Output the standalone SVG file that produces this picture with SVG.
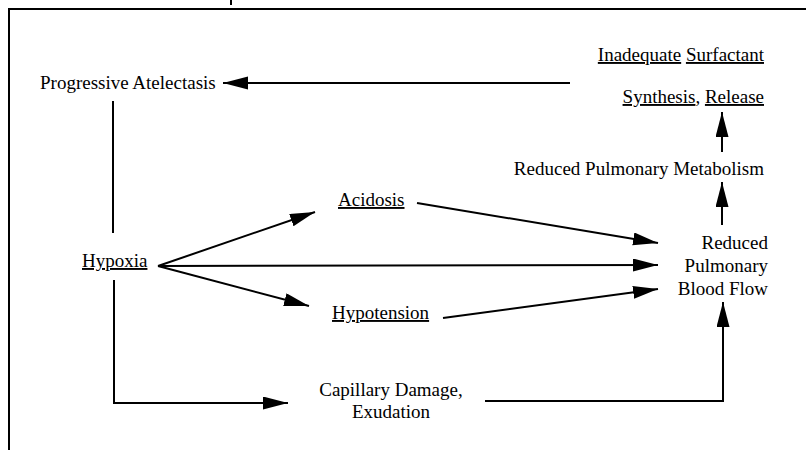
<svg xmlns="http://www.w3.org/2000/svg" width="806" height="450" viewBox="0 0 806 450">
<style>
  .u { text-decoration: underline; }
  .ln { stroke: #000; stroke-width: 2; fill: none; }
  .ar { stroke: #000; stroke-width: 2; fill: none; marker-end: url(#ah); }
</style>
<defs>
  <marker id="ah" markerUnits="userSpaceOnUse" markerWidth="26" markerHeight="14" refX="25" refY="6.5" orient="auto">
    <path d="M0,0 L25,6.5 L0,13 z" fill="#000"/>
  </marker>
</defs>
<rect width="806" height="450" fill="#fff"/>
<g id="frame">
  <path class="ln" d="M9,450 L9,9 L806,9"/>
  <line class="ln" x1="231" y1="0" x2="231" y2="5"/>
</g>
<g id="connectors">
  <line class="ar" x1="570" y1="83" x2="223" y2="83"/>
  <line class="ar" x1="722" y1="152" x2="722" y2="112"/>
  <line class="ar" x1="722" y1="225" x2="722" y2="182"/>
  <path class="ar" d="M485,401 L723,401 L723,302"/>
  <line class="ln" x1="113" y1="101" x2="113" y2="233"/>
  <path class="ar" d="M114,280 L114,403 L288,403"/>
  <line class="ar" x1="158" y1="266" x2="315" y2="212"/>
  <line class="ar" x1="158" y1="266" x2="658" y2="265"/>
  <line class="ar" x1="158" y1="266" x2="309" y2="306"/>
  <line class="ar" x1="417" y1="203" x2="658" y2="243"/>
  <line class="ar" x1="443" y1="318" x2="658" y2="289"/>
</g>
<g id="node-atelectasis">
  <text x="40" y="89" style="font-family:'Liberation Serif',serif;font-size:19px">Progressive Atelectasis</text>
</g>
<g id="node-surfactant">
  <text x="764" y="61" text-anchor="end" style="font-family:'Liberation Serif',serif;font-size:19px"><tspan class="u">Inadequate</tspan> <tspan class="u">Surfactant</tspan></text>
  <text x="764" y="103" text-anchor="end" style="font-family:'Liberation Serif',serif;font-size:19px"><tspan class="u">Synthesis</tspan>, <tspan class="u">Release</tspan></text>
</g>
<g id="node-metabolism">
  <text x="764" y="175" text-anchor="end" style="font-family:'Liberation Serif',serif;font-size:19px">Reduced Pulmonary Metabolism</text>
</g>
<g id="node-bloodflow">
  <text x="768" y="249" text-anchor="end" style="font-family:'Liberation Serif',serif;font-size:19px">Reduced</text>
  <text x="768" y="272" text-anchor="end" style="font-family:'Liberation Serif',serif;font-size:19px">Pulmonary</text>
  <text x="768" y="295" text-anchor="end" style="font-family:'Liberation Serif',serif;font-size:19px">Blood Flow</text>
</g>
<g id="node-hypoxia">
  <text x="82" y="267" class="u" style="font-family:'Liberation Serif',serif;font-size:19px">Hypoxia</text>
</g>
<g id="node-acidosis">
  <text x="338" y="206" class="u" style="font-family:'Liberation Serif',serif;font-size:19px">Acidosis</text>
</g>
<g id="node-hypotension">
  <text x="332" y="319" class="u" style="font-family:'Liberation Serif',serif;font-size:19px">Hypotension</text>
</g>
<g id="node-capillary">
  <text x="391" y="396" text-anchor="middle" style="font-family:'Liberation Serif',serif;font-size:19px">Capillary Damage,</text>
  <text x="391" y="418" text-anchor="middle" style="font-family:'Liberation Serif',serif;font-size:19px">Exudation</text>
</g>
</svg>
